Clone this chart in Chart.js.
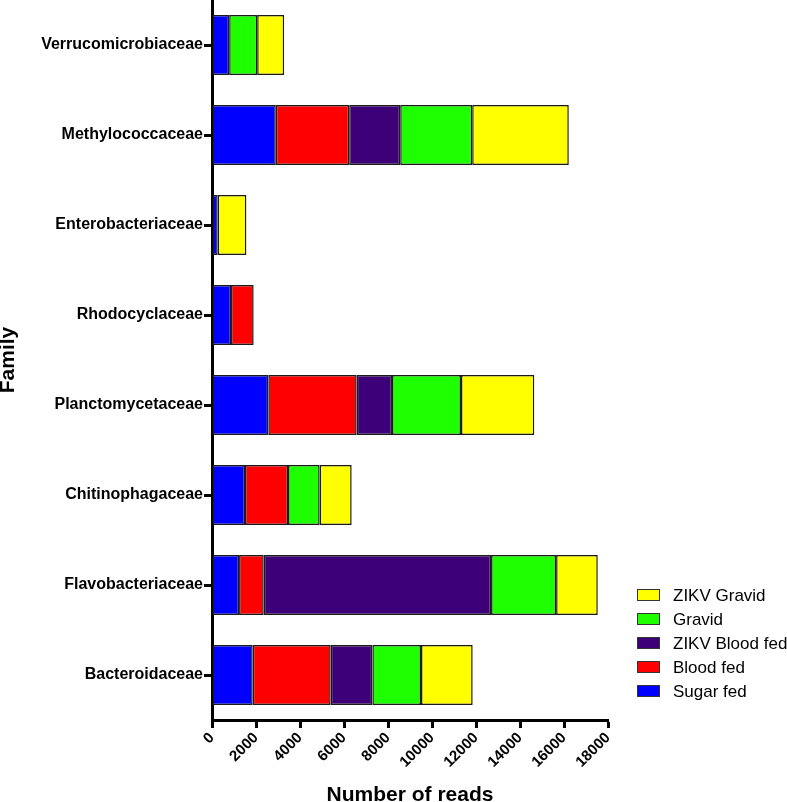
<!DOCTYPE html>
<html>
<head>
<meta charset="utf-8">
<script src="https://cdn.jsdelivr.net/npm/chart.js@4"></script>
<style>
html,body{margin:0;padding:0;background:#fff;}
#wrap{width:787px;height:802px;}
</style>
</head>
<body>
<div id="wrap"><canvas id="c" width="787" height="802"></canvas></div>
<script>
const families = ["Verrucomicrobiaceae","Methylococcaceae","Enterobacteriaceae","Rhodocyclaceae","Planctomycetaceae","Chitinophagaceae","Flavobacteriaceae","Bacteroidaceae"];
const seriesNames = ["Sugar fed","Blood fed","ZIKV Blood fed","Gravid","ZIKV Gravid"];
const sugarFed     = [780, 2900, 260, 865, 2560, 1500, 1230, 1850];
const bloodFed     = [null, 3336, null, 1029, 4015, 1955, 1121, 3545];
const zikvBloodFed = [null, 2318, null, null, 1606, null, 10335, 1894];
const gravid       = [1273, 3273, null, null, 3136, 1439, 2955, 2212];
const zikvGravid   = [1227, 4391, 1303, null, 3333, 1455, 1894, 2348];
const xTicks = [0,2000,4000,6000,8000,10000,12000,14000,16000,18000];
const colors = ["#0000FF","#FF0000","#3E0078","#1EFF00","#FFFF00"];

const FONT = "'Liberation Sans', Arial, sans-serif";
const seriesValues = [sugarFed, bloodFed, zikvBloodFed, gravid, zikvGravid];

const legendPlugin = {
  id: 'customLegend',
  afterDraw(chart) {
    const ctx = chart.ctx;
    const ds = chart.data.datasets;
    ctx.save();
    ctx.font = "17px " + FONT;
    ctx.textBaseline = 'middle';
    ctx.textAlign = 'left';
    for (let k = 0; k < ds.length; k++) {
      const d = ds[ds.length - 1 - k];
      const y = 595 + k * 24;
      ctx.fillStyle = d.backgroundColor;
      ctx.fillRect(637, y - 6, 23, 12);
      ctx.strokeStyle = '#333';
      ctx.lineWidth = 1;
      ctx.strokeRect(637.5, y - 5.5, 22, 11);
      ctx.fillStyle = '#000';
      ctx.fillText(d.label, 673, y + 1);
    }
    ctx.restore();
  }
};

new Chart(document.getElementById('c'), {
  type: 'bar',
  data: {
    labels: families,
    datasets: seriesNames.map((n, i) => ({
      label: n,
      data: seriesValues[i],
      backgroundColor: colors[i],
      borderColor: '#1a1a1a',
      borderWidth: 1.5,
      borderSkipped: false,
      categoryPercentage: 1,
      barPercentage: 0.6667
    }))
  },
  options: {
    indexAxis: 'y',
    responsive: false,
    animation: false,
    devicePixelRatio: 1,
    layout: { padding: { left: 0, right: 179, top: 0, bottom: 0 } },
    plugins: { legend: { display: false }, tooltip: { enabled: false } },
    scales: {
      x: {
        stacked: true,
        min: 0, max: 18000,
        afterBuildTicks(scale) { scale.ticks = xTicks.map(v => ({ value: v })); },
        afterFit(scale) { scale.height = 82; scale.paddingLeft = 0; scale.paddingRight = 0; },
        ticks: {
          stepSize: 2000,
          maxRotation: 45, minRotation: 45,
          autoSkip: false,
          color: '#000',
          padding: 1,
          callback: (v) => String(v),
          font: { family: FONT, size: 15, weight: 'bold' }
        },
        grid: { drawOnChartArea: false, tickLength: 8, tickWidth: 3, tickColor: '#000' },
        border: { display: true, width: 3, color: '#000' },
        title: {
          display: true, text: 'Number of reads', color: '#000',
          font: { family: FONT, size: 21, weight: 'bold', lineHeight: 0.6 },
          padding: { top: 0, bottom: 0 }
        }
      },
      y: {
        stacked: true,
        afterFit(scale) { scale.width = 212; scale.paddingTop = 0; scale.paddingBottom = 0; },
        ticks: {
          color: '#000',
          padding: 1,
          font: { family: FONT, size: 16, weight: 'bold' }
        },
        grid: { drawOnChartArea: false, offset: false, tickLength: 8, tickWidth: 3, tickColor: '#000' },
        border: { display: true, width: 3, color: '#000' },
        title: {
          display: true, text: 'Family', color: '#000',
          font: { family: FONT, size: 21, weight: 'bold', lineHeight: 0.8 },
          padding: { top: 0, bottom: 0 }
        }
      }
    }
  },
  plugins: [legendPlugin]
});
</script>
</body>
</html>
